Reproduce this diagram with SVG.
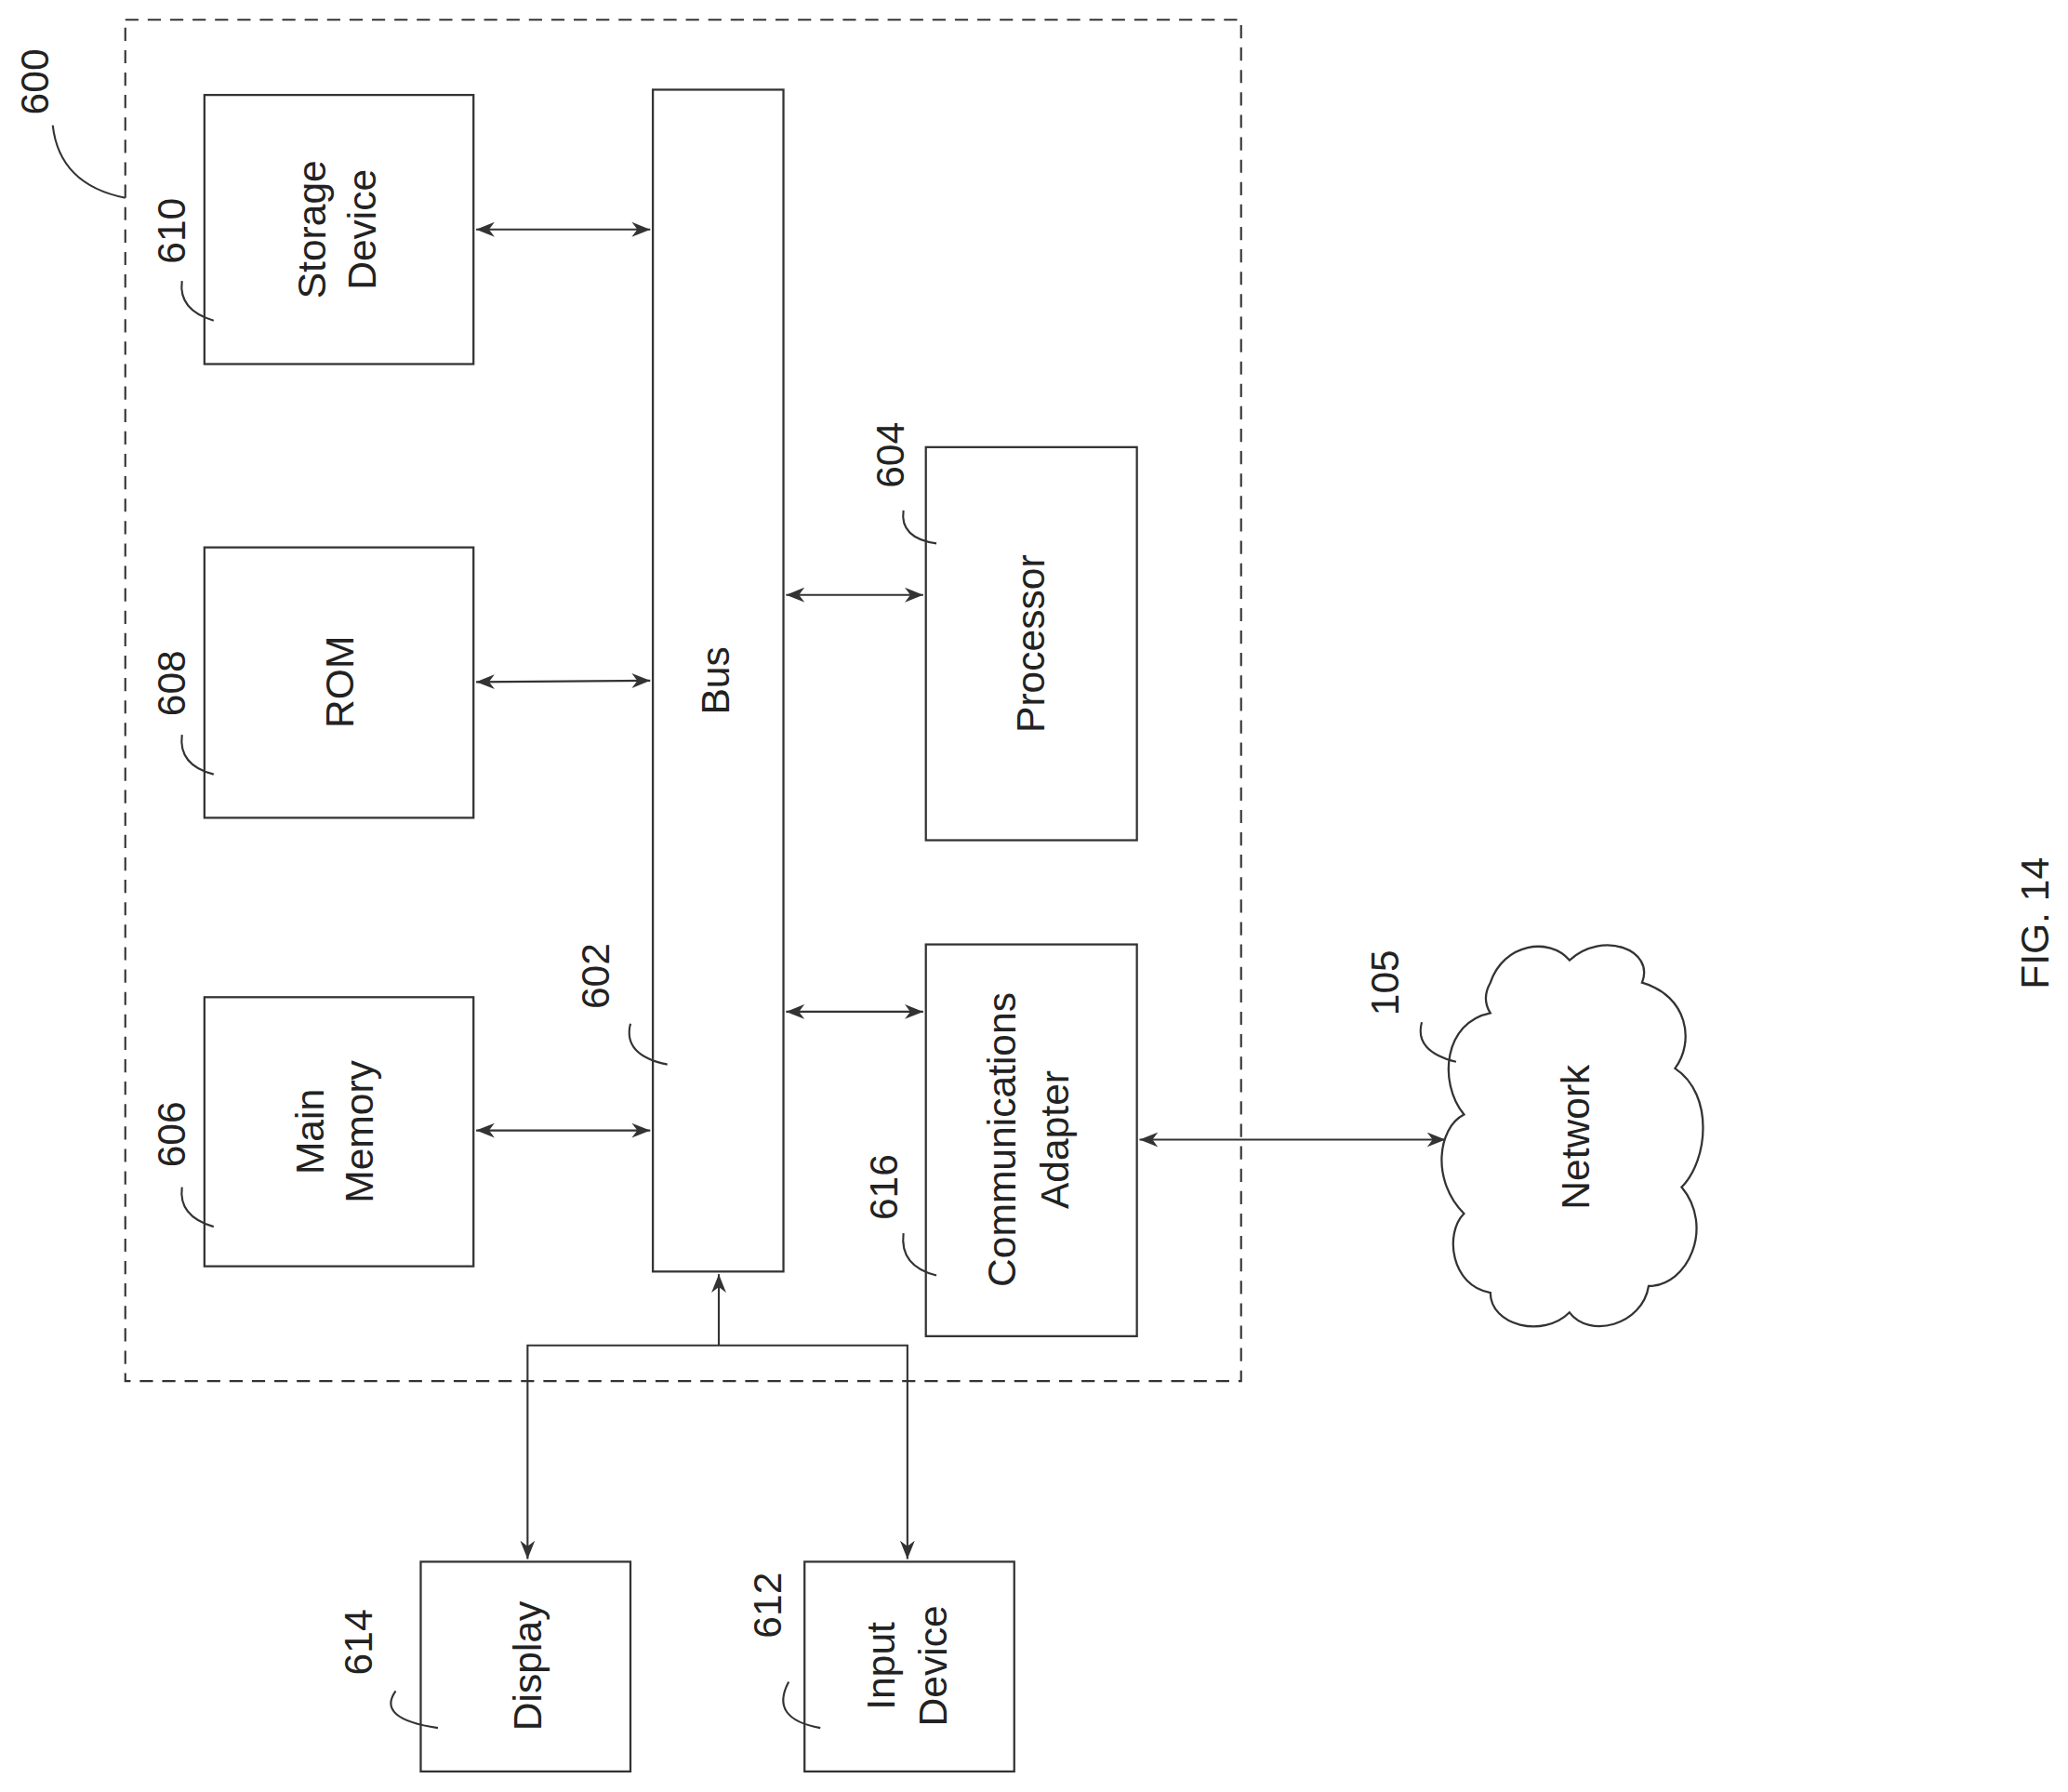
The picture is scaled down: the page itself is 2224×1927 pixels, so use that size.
<svg xmlns="http://www.w3.org/2000/svg" width="2224" height="1927" viewBox="0 0 2224 1927">
<style>
.b{fill:#fff;stroke:#333;stroke-width:1.6}
.c{fill:none;stroke:#333;stroke-width:1.5}
.t{font-family:"Liberation Sans",Arial,sans-serif;font-size:30px;fill:#222;text-anchor:middle}
</style>
<defs>
<marker id="a" viewBox="0 0 10 10" refX="10" refY="5" markerWidth="14" markerHeight="14" markerUnits="userSpaceOnUse" orient="auto-start-reverse"><path d="M0,1 L10,5 L0,9 L3,5z" fill="#333"/></marker>
</defs>
<rect width="2224" height="1927" fill="#fff"/>
<g transform="scale(1.4184)">
<rect id="frame" x="95" y="15" width="846" height="1032" fill="none" stroke="#333" stroke-width="1.5" stroke-dasharray="10,7"/>
<g id="connectors" class="c">
<line x1="361" y1="174" x2="493" y2="174" marker-start="url(#a)" marker-end="url(#a)"/>
<line x1="361" y1="517" x2="493" y2="516" marker-start="url(#a)" marker-end="url(#a)"/>
<line x1="361" y1="857" x2="493" y2="857" marker-start="url(#a)" marker-end="url(#a)"/>
<line x1="596" y1="451" x2="700" y2="451" marker-start="url(#a)" marker-end="url(#a)"/>
<line x1="596" y1="767" x2="700" y2="767" marker-start="url(#a)" marker-end="url(#a)"/>
<line x1="864" y1="864" x2="1096" y2="864" marker-start="url(#a)" marker-end="url(#a)"/>
<line x1="545" y1="1020" x2="545" y2="966" marker-end="url(#a)"/>
<polyline points="400,1182 400,1020 688,1020 688,1182" marker-start="url(#a)" marker-end="url(#a)"/>
</g>
<g id="n600"><path class="c" d="M40,95 Q45,140 95,150"/><text class="t" transform="translate(37,62) rotate(-90)">600</text></g>
<g id="n610"><rect class="b" x="155" y="72" width="204" height="204"/><text class="t" transform="translate(247,174) rotate(-90)">Storage</text><text class="t" transform="translate(285,174) rotate(-90)">Device</text><path class="c" d="M138,213 Q135,235 162,243"/><text class="t" transform="translate(140,175) rotate(-90)">610</text></g>
<g id="n608"><rect class="b" x="155" y="415" width="204" height="205"/><text class="t" transform="translate(268,517) rotate(-90)">ROM</text><path class="c" d="M138,557 Q135,580 162,587"/><text class="t" transform="translate(140,518) rotate(-90)">608</text></g>
<g id="n606"><rect class="b" x="155" y="756" width="204" height="204"/><text class="t" transform="translate(245,858) rotate(-90)">Main</text><text class="t" transform="translate(283,858) rotate(-90)">Memory</text><path class="c" d="M138,900 Q135,922 162,930"/><text class="t" transform="translate(140,860) rotate(-90)">606</text></g>
<g id="n602"><rect class="b" x="495" y="68" width="99" height="896"/><text class="t" transform="translate(553,516) rotate(-90)">Bus</text><path class="c" d="M478,776 Q472,800 506,807"/><text class="t" transform="translate(462,740) rotate(-90)">602</text></g>
<g id="n604"><rect class="b" x="702" y="339" width="160" height="298"/><text class="t" transform="translate(792,488) rotate(-90)">Processor</text><path class="c" d="M685,387 Q682,408 710,412"/><text class="t" transform="translate(685,345) rotate(-90)">604</text></g>
<g id="n616"><rect class="b" x="702" y="716" width="160" height="297"/><text class="t" transform="translate(770,864) rotate(-90)">Communications</text><text class="t" transform="translate(810,864) rotate(-90)">Adapter</text><path class="c" d="M685,935 Q682,960 710,967"/><text class="t" transform="translate(680,900) rotate(-90)">616</text></g>
<g id="n105"><path class="b" d="M1130,745 C1140,715 1175,710 1190,728 C1215,705 1255,720 1245,745 C1280,755 1285,790 1270,810 C1300,830 1295,880 1275,900 C1300,930 1280,975 1250,975 C1245,1005 1205,1015 1190,995 C1170,1015 1130,1005 1130,980 C1100,975 1095,935 1110,920 C1085,895 1090,855 1110,845 C1090,820 1095,775 1130,768 C1125,760 1126,752 1130,745z"/><text class="t" transform="translate(1205,862) rotate(-90)">Network</text><path class="c" d="M1078,775 Q1072,797 1104,805"/><text class="t" transform="translate(1060,745) rotate(-90)">105</text></g>
<g id="n614"><rect class="b" x="319" y="1184" width="159" height="159"/><text class="t" transform="translate(410,1263) rotate(-90)">Display</text><path class="c" d="M300,1282 Q285,1303 332,1310"/><text class="t" transform="translate(282,1245) rotate(-90)">614</text></g>
<g id="n612"><rect class="b" x="610" y="1184" width="159" height="159"/><text class="t" transform="translate(678,1263) rotate(-90)">Input</text><text class="t" transform="translate(718,1263) rotate(-90)">Device</text><path class="c" d="M598,1275 Q583,1303 622,1310"/><text class="t" transform="translate(592,1217) rotate(-90)">612</text></g>
<text class="t" transform="translate(1553,700) rotate(-90)">FIG. 14</text>
</g>
</svg>
